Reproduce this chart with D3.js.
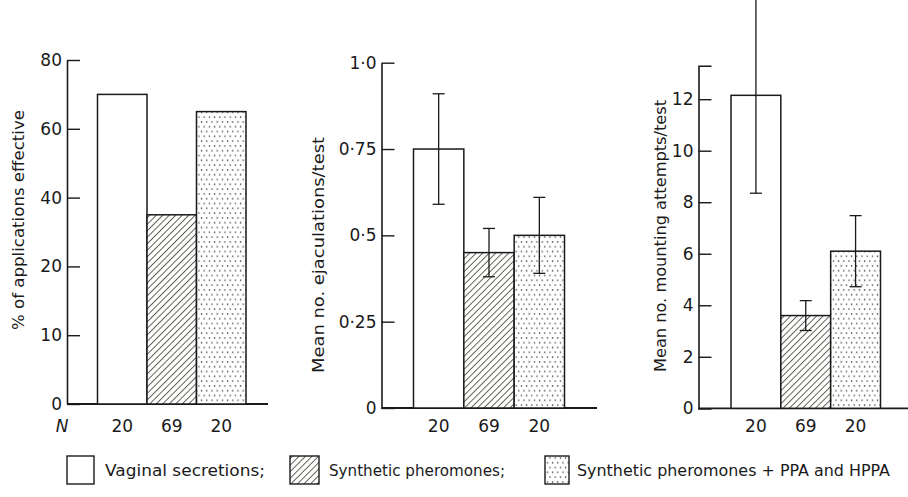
<!DOCTYPE html>
<html>
<head>
<meta charset="utf-8">
<script src="https://cdn.jsdelivr.net/npm/d3@7"></script>
<style>
  body { margin: 0; background: #fff; }
  svg { display: block; }
  text { font-family: "DejaVu Sans", sans-serif; fill: #1a1a1a; }
</style>
</head>
<body>
<svg id="chart" width="908" height="497"></svg>
<script>
// Treatment groups and sample sizes
const groups = ["vaginal", "synthetic", "syntheticPlus"];
const sampleSizes = ["20", "69", "20"];

// Panel 1: % of applications effective
const effectivePct = [70, 35, 65];
const pctTicks = [0, 10, 20, 40, 60, 80];
const pctTickLabels = ["0", "10", "20", "40", "60", "80"];

// Panel 2: mean ejaculations per test (± s.e.)
const ejaculations = [0.75, 0.45, 0.5];
const ejaculationsErr = [0.16, 0.07, 0.11];
const ejacTicks = [0, 0.25, 0.5, 0.75, 1];
const ejacTickLabels = ["0", "0·25", "0·5", "0·75", "1·0"];

// Panel 3: mean mounting attempts per test (± s.e.)
const mounts = [12.15, 3.6, 6.1];
const mountsErr = [3.8, 0.58, 1.38];
const mountTicks = [0, 2, 4, 6, 8, 10, 12];
const mountTickLabels = ["0", "2", "4", "6", "8", "10", "12"];
const mountAxisTop = 13.3;

// Legend
const legendLabels = ["Vaginal secretions;", "Synthetic pheromones;", "Synthetic pheromones + PPA and HPPA"];

const ink = "#1a1a1a";
const fills = ["#fff", "url(#hatch)", "url(#dots)"];
const svg = d3.select("#chart");
const defs = svg.append("defs");

// Fill patterns: diagonal hatching and stipple
const hatch = defs.append("pattern")
  .attr("id", "hatch").attr("patternUnits", "userSpaceOnUse")
  .attr("width", 4.6).attr("height", 10)
  .attr("patternTransform", "rotate(45)");
hatch.append("rect").attr("width", 4.6).attr("height", 10).attr("fill", "#fff");
hatch.append("line").attr("x1", 0.5).attr("x2", 0.5).attr("y1", 0).attr("y2", 10)
  .attr("stroke", "#4a4a40").attr("stroke-width", 0.9);

const dots = defs.append("pattern")
  .attr("id", "dots").attr("patternUnits", "userSpaceOnUse")
  .attr("width", 5.2).attr("height", 9.6);
dots.append("rect").attr("width", 5.2).attr("height", 9.6).attr("fill", "#fff");
dots.append("circle").attr("cx", 1.4).attr("cy", 2).attr("r", 0.75).attr("fill", "#222");
dots.append("circle").attr("cx", 4).attr("cy", 6.8).attr("r", 0.75).attr("fill", "#222");

// Panel layout
const panels = [
  {
    values: effectivePct, errors: null,
    ticks: pctTicks, tickLabels: pctTickLabels,
    title: "% of applications effective", titleX: 18, titleY: 220, titleLen: 220,
    axisX: 67, barsFrom: 97.5, barsTo: 246, baseEnd: 268,
    y0: 404, yTop: 60, piecewise: true, outerTick: 0, showN: true
  },
  {
    values: ejaculations, errors: ejaculationsErr,
    ticks: ejacTicks, tickLabels: ejacTickLabels,
    title: "Mean no. ejaculations/test", titleX: 318, titleY: 255, titleLen: 236,
    axisX: 381.5, barsFrom: 413.5, barsTo: 564.5, baseEnd: 597,
    y0: 408, yTop: 62.7, domainTop: 1, outerTick: 0
  },
  {
    values: mounts, errors: mountsErr,
    ticks: mountTicks, tickLabels: mountTickLabels,
    title: "Mean no. mounting attempts/test", titleX: 660, titleY: 236, titleLen: 272,
    axisX: 698.5, barsFrom: 731, barsTo: 880.5, baseEnd: 908,
    y0: 408.3, yTop: 65.7, domainTop: mountAxisTop, outerTick: -13
  }
];

panels.forEach(p => {
  const g = svg.append("g");

  // y scale: the first panel has equally spaced but unevenly valued ticks
  let y;
  if (p.piecewise) {
    const n = p.ticks.length - 1;
    y = d3.scaleLinear().domain(p.ticks)
      .range(p.ticks.map((d, i) => p.y0 + (p.yTop - p.y0) * i / n));
  } else {
    y = d3.scaleLinear().domain([0, p.domainTop]).range([p.y0, p.yTop]);
  }
  const x = d3.scaleBand().domain(groups).range([p.barsFrom, p.barsTo]).padding(0);

  // baseline
  g.append("line")
    .attr("x1", p.axisX).attr("x2", p.baseEnd)
    .attr("y1", y(0)).attr("y2", y(0))
    .attr("stroke", ink).attr("stroke-width", 1.8);

  // bars
  g.selectAll("rect.bar").data(p.values).join("rect")
    .attr("class", "bar")
    .attr("x", (d, i) => x(groups[i]))
    .attr("y", d => y(d))
    .attr("width", x.bandwidth())
    .attr("height", d => y(0) - y(d))
    .attr("fill", (d, i) => fills[i])
    .attr("stroke", ink).attr("stroke-width", 1.5);

  // error bars
  if (p.errors) {
    const eb = g.selectAll("g.err").data(p.values).join("g").attr("class", "err")
      .attr("stroke", ink).attr("stroke-width", 1.3);
    eb.each(function (d, i) {
      const cx = x(groups[i]) + x.bandwidth() / 2;
      const lo = y(d - p.errors[i]), hi = y(d + p.errors[i]);
      const s = d3.select(this);
      s.append("line").attr("x1", cx).attr("x2", cx).attr("y1", lo).attr("y2", hi);
      s.append("line").attr("x1", cx - 6).attr("x2", cx + 6).attr("y1", lo).attr("y2", lo);
      s.append("line").attr("x1", cx - 6).attr("x2", cx + 6).attr("y1", hi).attr("y2", hi);
    });
  }

  // y axis with inward ticks
  const axis = d3.axisLeft(y)
    .tickValues(p.ticks)
    .tickFormat((d, i) => p.tickLabels[i])
    .tickSizeInner(-13).tickSizeOuter(p.outerTick).tickPadding(5);
  const ag = g.append("g").attr("transform", `translate(${p.axisX},0)`).call(axis);
  ag.select(".domain").attr("stroke", ink).attr("stroke-width", 1.6);
  ag.selectAll(".tick line").attr("stroke", ink).attr("stroke-width", 1.4);
  ag.selectAll(".tick text")
    .style("font-family", '"DejaVu Sans", sans-serif')
    .style("font-size", "17px").attr("fill", ink);

  // y title
  g.append("text")
    .attr("transform", `translate(${p.titleX},${p.titleY}) rotate(-90)`)
    .attr("text-anchor", "middle").attr("dy", "0.35em")
    .attr("textLength", p.titleLen).attr("lengthAdjust", "spacingAndGlyphs")
    .style("font-size", "16px")
    .text(p.title);

  // sample sizes under bars
  g.selectAll("text.n").data(sampleSizes).join("text")
    .attr("class", "n")
    .attr("x", (d, i) => x(groups[i]) + x.bandwidth() / 2)
    .attr("y", 432)
    .attr("text-anchor", "middle")
    .style("font-size", "17px")
    .text(d => d);

  if (p.showN) {
    g.append("text")
      .attr("x", 62).attr("y", 432)
      .attr("text-anchor", "middle")
      .style("font-size", "17px").style("font-style", "italic")
      .text("N");
  }
});

// Legend
const legendBoxes = [
  { x: 67, w: 27, tx: 105, tlen: 160 },
  { x: 290, w: 29, tx: 329, tlen: 176 },
  { x: 545, w: 24, tx: 577, tlen: 313 }
];
const lg = svg.append("g");
legendBoxes.forEach((b, i) => {
  lg.append("rect")
    .attr("x", b.x).attr("y", 456).attr("width", b.w).attr("height", 28)
    .attr("fill", fills[i]).attr("stroke", ink).attr("stroke-width", 1.4);
  lg.append("text")
    .attr("x", b.tx).attr("y", 476)
    .attr("textLength", b.tlen).attr("lengthAdjust", "spacingAndGlyphs")
    .style("font-size", "15px")
    .text(legendLabels[i]);
});
</script>
</body>
</html>
